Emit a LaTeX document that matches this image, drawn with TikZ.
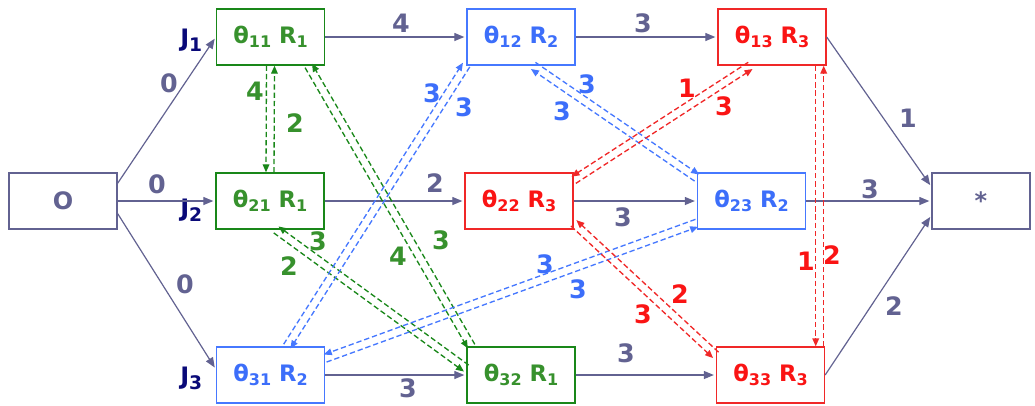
\documentclass[tikz,border=0pt]{standalone}
\usepackage{fontspec}
\setmainfont{DejaVu Sans}
\usetikzlibrary{arrows.meta,calc}

\definecolor{slate}{RGB}{98,98,145}
\definecolor{navy}{RGB}{10,10,120}
\definecolor{grntext}{RGB}{55,145,45}
\definecolor{grnline}{RGB}{25,135,25}
\definecolor{blutext}{RGB}{60,110,250}
\definecolor{bluline}{RGB}{70,120,255}
\definecolor{redtext}{RGB}{250,20,20}
\definecolor{redline}{RGB}{240,40,40}

\newcommand{\lowsub}[1]{\raisebox{-0.3ex}{\fontsize{12}{12}\selectfont #1}}
\newcommand{\opn}[2]{θ\lowsub{#1} R\lowsub{#2}}
\newcommand{\jlabel}[1]{J\raisebox{-4pt}{\fontsize{14}{14}\selectfont #1}}

\tikzset{
  box/.style={draw, line width=1pt, minimum width=81pt, minimum height=42pt,
    inner sep=0pt, font=\bfseries\fontsize{17}{19}\selectfont},
  gbox/.style={box, draw=grnline, text=grntext},
  bbox/.style={box, draw=bluline, text=blutext},
  rbox/.style={box, draw=redline, text=redtext},
  sbox/.style={box, draw=slate, text=slate, font=\bfseries\fontsize{18}{20}\selectfont},
  flow/.style={draw=slate, line width=0.9pt, shorten >=1.5pt,
    -{Triangle[length=7.5pt,width=6pt]}},
  swp/.style={draw=#1, line width=1pt, dash pattern=on 4pt off 2.2pt,
    -{Triangle[length=6pt,width=5pt]}},
  wt/.style={font=\bfseries\fontsize{19}{21}\selectfont, text=#1, inner sep=0pt},
  wt/.default=slate,
  jlab/.style={font=\bfseries\fontsize{18}{20}\selectfont, text=navy,
    inner sep=0pt, anchor=base west}
}

% two dashed lines, one arrow each way; #4 picks the side of the A-arrow
\newcommand{\swapedge}[4]{%
  \draw[swp=#1] ($(#3)!#4!-90:(#2)$) -- ($(#2)!#4!90:(#3)$);
  \draw[swp=#1] ($(#2)!#4!-90:(#3)$) -- ($(#3)!#4!90:(#2)$);
}

\begin{document}
\begin{tikzpicture}[x=0.75pt, y=-0.75pt]
\useasboundingbox (0,0) rectangle (1035,405);
% operations
\node[sbox] (src) at (63,201) {O};
\node[gbox] (t11) at (270.5,37) {\opn{11}{1}};
\node[gbox] (t21) at (270,201) {\opn{21}{1}};
\node[bbox] (t31) at (270.5,375) {\opn{31}{2}};
\node[bbox] (t12) at (521,37) {\opn{12}{2}};
\node[rbox] (t22) at (519,201) {\opn{22}{3}};
\node[gbox] (t32) at (521,375) {\opn{32}{1}};
\node[rbox] (t13) at (772,37) {\opn{13}{3}};
\node[bbox] (t23) at (751.5,201) {\opn{23}{2}};
\node[rbox] (t33) at (770.5,375) {\opn{33}{3}};
\node[sbox, minimum width=73.5pt] (sink) at (981,201) {*};
% job labels
\node[jlab] (j1) at (180,46) {\jlabel{1}};
\node[jlab] (j2) at (180,216) {\jlabel{2}};
\node[jlab] (j3) at (180,384) {\jlabel{3}};
% conjunctive arcs
\draw[flow] (src.18) -- (t11.west);
\draw[flow] (src.east) -- (t21.west);
\draw[flow] (src.-13) -- (t31.174);
\draw[flow] (t11) -- (t12);
\draw[flow] (t12) -- (t13);
\draw[flow] (t21) -- (t22);
\draw[flow] (t22) -- (t23);
\draw[flow] (t31) -- (t32);
\draw[flow] (t32) -- (t33);
\draw[flow] (t13.east) -- (sink.164);
\draw[flow] (t23) -- (sink);
\draw[flow] (t33.east) -- (sink.-164);
\node[wt] (w01) at (169,83) {0};
\node[wt] (w02) at (157,184) {0};
\node[wt] (w03) at (185,284) {0};
\node[wt] (w04) at (401,23) {4};
\node[wt] (w05) at (643,23) {3};
\node[wt] (w06) at (435,183) {2};
\node[wt] (w07) at (623,217) {3};
\node[wt] (w08) at (408,388) {3};
\node[wt] (w09) at (626,353) {3};
\node[wt] (w10) at (908,118) {1};
\node[wt] (w11) at (870,189) {3};
\node[wt] (w12) at (894,306) {2};
% disjunctive pairs, machine R1
\swapedge{grnline}{t11.south}{t21.north}{3pt}
\swapedge{grnline}{t11.-37}{t32.150}{3pt}
\swapedge{grnline}{t21.-78}{t32.173}{3pt}
\node[wt=grntext] (g1) at (255,91) {4};
\node[wt=grntext] (g2) at (295,123) {2};
\node[wt=grntext] (g3) at (318,241) {3};
\node[wt=grntext] (g4) at (289,266) {2};
\node[wt=grntext] (g5) at (398,256) {4};
\node[wt=grntext] (g6) at (441,240) {3};
% machine R2
\swapedge{bluline}{t12.-153}{t31.60}{-3pt}
\swapedge{bluline}{t12.-67}{t23.157}{-3pt}
\swapedge{bluline}{t31.17}{t23.-158}{3pt}
\node[wt=blutext] (b1) at (432,93) {3};
\node[wt=blutext] (b2) at (464,107) {3};
\node[wt=blutext] (b3) at (587,84) {3};
\node[wt=blutext] (b4) at (562,111) {3};
\node[wt=blutext] (b5) at (545,264) {3};
\node[wt=blutext] (b6) at (578,289) {3};
% machine R3
\coordinate (v33) at (t33.north -| t13.-31);
\swapedge{redline}{t22.21}{t13.-127}{3pt}
\swapedge{redline}{t22.-22}{t33.160}{3pt}
\swapedge{redline}{t13.-31}{v33}{3pt}
\node[wt=redtext] (r1) at (687,88) {1};
\node[wt=redtext] (r2) at (724,106) {3};
\node[wt=redtext] (r3) at (680,294) {2};
\node[wt=redtext] (r4) at (643,314) {3};
\node[wt=redtext] (r5) at (806,261) {1};
\node[wt=redtext] (r6) at (832,255) {2};
\end{tikzpicture}
\end{document}
